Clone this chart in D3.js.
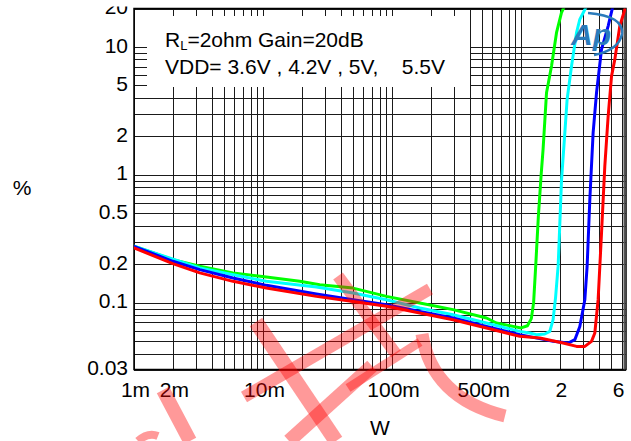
<!DOCTYPE html>
<html><head><meta charset="utf-8">
<script src="https://cdn.jsdelivr.net/npm/d3@7"></script>
<style>
body{margin:0;background:#fff}
svg{display:block}
text{font-family:"Liberation Sans",Arial,sans-serif;fill:#000}
</style>
</head><body>
<svg id="c" width="631" height="441"></svg>
<script>
// ---- data ----
const xTicks = [0.001, 0.002, 0.01, 0.1, 0.5, 2, 6];
const xTickLabels = ["1m", "2m", "10m", "100m", "500m", "2", "6"];
const yTicks = [0.03, 0.1, 0.2, 0.5, 1, 2, 5, 10, 20];
const yTickLabels = ["0.03", "0.1", "0.2", "0.5", "1", "2", "5", "10", "20"];
const seriesNames = ["3.6V", "4.2V", "5V", "5.5V"];

const power36 = [0.001,0.002,0.00323,0.00585,0.0106,0.01925,0.0275,0.0499,0.0905,0.164,0.297,0.539,0.644,0.867,1.0,1.12,1.2,1.25,1.3,1.36,1.43,1.48,1.574,1.721,1.881,2.056,2.143];
const thd36   = [0.276,0.217,0.1925,0.171,0.159,0.147,0.138,0.130,0.112,0.0995,0.0882,0.0759,0.0693,0.0652,0.0634,0.066,0.075,0.1,0.2,0.47,1.0,1.58,4.39,7.09,12.94,18.6,20.3];

const power42 = [0.001,0.00323,0.0106,0.0259,0.0499,0.0905,0.164,0.297,0.539,0.977,1.168,1.316,1.526,1.669,1.77,1.85,1.936,1.971,2.056,2.182,2.273,2.459,2.689,2.851,3.175];
const thd42   = [0.276,0.187,0.1468,0.1327,0.119,0.1055,0.0909,0.0805,0.0693,0.0596,0.0579,0.0562,0.0569,0.0596,0.0736,0.11,0.193,0.3,0.9,2.13,3.89,7.09,12.94,16.45,20.3];

const power50 = [0.001,0.002,0.00323,0.00585,0.0106,0.0259,0.0499,0.0905,0.164,0.297,0.539,0.977,1.77,2.314,2.609,2.851,3.118,3.248,3.409,3.615,3.842,4.2,4.726,5.112];
const thd50   = [0.276,0.2106,0.1813,0.156,0.1366,0.117,0.1055,0.0965,0.0855,0.0759,0.0652,0.0562,0.0498,0.0483,0.0513,0.0652,0.1055,0.192,0.641,2.13,4.39,9.58,14.58,20.3];

const power55 = [0.001,0.002,0.00323,0.00585,0.0106,0.0259,0.0499,0.0905,0.164,0.297,0.539,0.977,1.396,2.116,2.689,3.118,3.513,3.727,3.953,4.2,4.454,4.726,5.022,5.325,5.82,6.366];
const thd55   = [0.268,0.202,0.1709,0.1468,0.1303,0.112,0.1023,0.0936,0.0831,0.0736,0.0634,0.0545,0.0529,0.0483,0.0455,0.0455,0.0498,0.0579,0.1055,0.351,1.17,2.87,5.92,8.0,14.58,19.7];

const seriesPower = [power36, power42, power50, power55];
const seriesThd = [thd36, thd42, thd50, thd55];
const seriesColors = ["#00ff00", "#00ffff", "#0000ff", "#ff0000"];

// ---- layout ----
const svg = d3.select("#c");
const L = 134, R = 626, T = 8.5, B = 369.5;
const x = d3.scaleLog().domain([0.001, 6.5]).range([L, R]);
const y = d3.scaleLog().domain([0.03, 20]).range([B, T]);

svg.append("defs").append("clipPath").attr("id","clip")
  .append("rect").attr("x", L).attr("y", T).attr("width", R - L).attr("height", B - T);

// grid values
const xGrid = [];
for (let e = -3; e <= 0; e++) for (let m = 1; m <= 9; m++) { const v = m * Math.pow(10, e); if (v <= 6.5) xGrid.push(v); }
const yGrid = [];
for (let e = -2; e <= 1; e++) for (let m = 1; m <= 9; m++) { const v = m * Math.pow(10, e); if (v >= 0.03 && v <= 20) yGrid.push(v); }

const g = svg.append("g");
g.selectAll("line.vx").data(xGrid).enter().append("line")
  .attr("x1", d => Math.round(x(d)) + 0.5).attr("x2", d => Math.round(x(d)) + 0.5)
  .attr("y1", T).attr("y2", B).attr("stroke", "#1a1a1a").attr("stroke-width", 1);
g.selectAll("line.hy").data(yGrid).enter().append("line")
  .attr("y1", d => Math.round(y(d)) + 0.5).attr("y2", d => Math.round(y(d)) + 0.5)
  .attr("x1", L).attr("x2", R).attr("stroke", "#1a1a1a").attr("stroke-width", 1);

// legend box
svg.append("rect").attr("x", 147).attr("y", 16).attr("width", 323).attr("height", 71).attr("fill", "#fff");
const t1 = svg.append("text").attr("x", 165).attr("y", 47).attr("font-size", 21);
t1.append("tspan").text("R");
t1.append("tspan").attr("font-size", 13).attr("dy", 3).text("L");
t1.append("tspan").attr("dy", -3).text("=2ohm Gain=20dB");
svg.append("text").attr("x", 165).attr("y", 73.5).attr("font-size", 21)
  .style("white-space", "pre").text("VDD= 3.6V , 4.2V , 5V,    5.5V");

// axis labels
svg.selectAll("text.yl").data(yTicks).enter().append("text")
  .attr("x", 128).attr("y", d => y(d) - 2).attr("dy", "0.36em")
  .attr("text-anchor", "end").attr("font-size", 21)
  .text((d, i) => yTickLabels[i]);
svg.selectAll("text.xl").data(xTicks).enter().append("text")
  .attr("x", (d, i) => x(d) + (i === xTicks.length - 1 ? -3 : 1.5)).attr("y", 397)
  .attr("text-anchor", "middle").attr("font-size", 21)
  .text((d, i) => xTickLabels[i]);
svg.append("text").attr("x", 380).attr("y", 435).attr("text-anchor", "middle").attr("font-size", 21).text("W");
svg.append("text").attr("x", 22).attr("y", 195).attr("text-anchor", "middle").attr("font-size", 21).text("%");

// top band of the original picture is blank (clips the "20" label)
svg.append("rect").attr("x", 0).attr("y", 0).attr("width", 631).attr("height", 6.5).attr("fill", "#fff");

// frame
svg.append("rect").attr("x", L).attr("y", T).attr("width", R - L).attr("height", B - T)
  .attr("fill", "none").attr("stroke", "#000").attr("stroke-width", 1.5);
svg.append("line").attr("x1", R - 1.5).attr("x2", R - 1.5).attr("y1", T).attr("y2", B)
  .attr("stroke", "#555").attr("stroke-width", 2);

// curves
const line = d3.line().x(d => x(d[0])).y(d => y(d[1]));
const cg = svg.append("g").attr("clip-path", "url(#clip)");
seriesNames.forEach((name, i) => {
  const pts = seriesPower[i].map((p, k) => [p, seriesThd[i][k]]);
  cg.append("path").attr("d", line(pts)).attr("fill", "none")
    .attr("stroke", seriesColors[i]).attr("stroke-width", 3)
    .attr("stroke-linejoin", "round").attr("stroke-linecap", "round");
});

// logo
const logo = svg.append("g");
logo.append("path").attr("d", "M588,13 Q624,16 622,34 Q619,50 594,55")
  .attr("fill", "none").attr("stroke", "#2a7bbb").attr("stroke-width", 2.5);
logo.append("text").attr("x", 571).attr("y", 45).attr("font-size", 30)
  .attr("font-style", "italic").attr("font-weight", "bold")
  .style("fill", "#2a7bbb").text("Ap");

// watermark
const wm = svg.append("g").attr("fill", "none").attr("stroke", "rgba(255,0,0,0.4)")
  .attr("stroke-linecap", "butt");
[["M256,322 L336,441", 15],
 ["M430,289 L244,397", 12],
 ["M338,276 L396,354", 12],
 ["M372,366 L289,441", 14],
 ["M348,388 L420,342", 9],
 ["M422,334 Q432,398 505,416", 13],
 ["M163,390 L190,441", 14],
 ["M138,441 Q148,432 158,436", 8]
].forEach(([d, w]) => wm.append("path").attr("d", d).attr("stroke-width", w));
</script>
</body></html>
